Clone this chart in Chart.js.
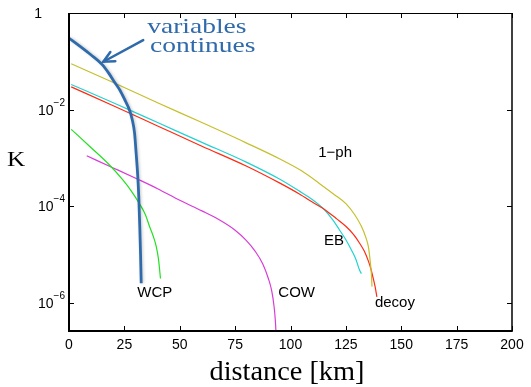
<!DOCTYPE html>
<html>
<head>
<meta charset="utf-8">
<script src="https://cdn.jsdelivr.net/npm/chart.js@4.4.1/dist/chart.umd.min.js"></script>
<style>
  body { margin: 0; background: #fff; }
  canvas { display: block; }
</style>
</head>
<body>
<canvas id="chart" width="531" height="387"></canvas>
<script>
// distance [km] and key rate K
const cvX   = [0, 5, 10, 15, 18, 20.5, 23, 25, 27.3, 28.5, 29.6, 30.3, 31, 31.5, 32, 32.3, 32.6];
const cvK   = [0.302, 0.204, 0.135, 0.0851, 0.0562, 0.0372, 0.0251, 0.0166, 0.00977, 0.00631, 0.00324, 0.00126, 4.47e-4, 1.58e-4, 3.16e-5, 1.0e-5, 2.51e-6];

const phX   = [1, 20, 40, 60, 80, 95, 105, 113, 120, 125, 129, 132, 134, 135.2, 136, 136.5, 136.8];
const phK   = [0.0891, 0.0363, 0.0138, 0.00537, 0.00204, 9.55e-4, 5.37e-4, 2.95e-4, 1.70e-4, 1.12e-4, 6.61e-5, 3.80e-5, 2.24e-5, 1.41e-5, 7.08e-6, 3.98e-6, 2.14e-6];

const ebX   = [1, 20, 40, 60, 80, 95, 104, 110, 115, 119, 122.2, 125, 127.5, 129.5, 131.2, 132];
const ebK   = [0.0331, 0.0138, 0.00537, 0.00209, 8.13e-4, 3.63e-4, 2.04e-4, 1.35e-4, 8.71e-5, 5.25e-5, 3.16e-5, 2.0e-5, 1.23e-5, 7.94e-6, 4.68e-6, 3.98e-6];

const decoyX = [1, 20, 40, 60, 80, 95, 104, 110, 116, 121, 125.2, 128.5, 131.2, 133.3, 135, 136.3, 137.2, 138.2, 139];
const decoyK = [0.0295, 0.0120, 0.00457, 0.00174, 6.76e-4, 3.02e-4, 1.78e-4, 1.20e-4, 8.13e-5, 5.37e-5, 3.72e-5, 2.57e-5, 1.70e-5, 1.17e-5, 7.59e-6, 5.01e-6, 3.39e-6, 2.14e-6, 1.32e-6];

const wcpX  = [1, 10, 18.3, 24.3, 28, 31.8, 34.5, 36.4, 38, 39.4, 40.4, 41.3];
const wcpK  = [3.89e-3, 1.62e-3, 7.08e-4, 3.47e-4, 2.09e-4, 1.12e-4, 6.61e-5, 3.72e-5, 2.40e-5, 1.45e-5, 7.94e-6, 3.16e-6];

const cowX  = [8, 20, 31.8, 40, 50, 60, 68, 75, 80, 84, 87.5, 90, 91.5, 92.5, 93.2, 93.8];
const cowK  = [1.10e-3, 6.17e-4, 3.47e-4, 2.29e-4, 1.32e-4, 7.94e-5, 5.13e-5, 3.16e-5, 1.95e-5, 1.17e-5, 6.31e-6, 3.16e-6, 1.78e-6, 8.91e-7, 3.98e-7, 1.0e-7];

const yTicks = [1, 1e-2, 1e-4, 1e-6];
const yTickExp = ['', '\u22122', '\u22124', '\u22126'];

// curve names, placed in data coordinates (left edge, baseline)
const curveNames = ['1\u2212ph', 'EB', 'WCP', 'COW', 'decoy'];
const nameX = [112.5, 115.1, 30.8, 94.5, 138.1];
const nameK = [1.05e-3, 1.56e-5, 1.33e-6, 1.33e-6, 8.2e-7];

function pts(xs, ks) {
    return xs.map((x, i) => ({ x: x, y: ks[i] }));
}

function line(data, color, width) {
    return {
        data: data,
        borderColor: color,
        borderWidth: width,
        pointRadius: 0,
        fill: false,
        cubicInterpolationMode: 'monotone'
    };
}

const BLUE = '#2f6aab';

const decorations = {
    id: 'decorations',
    beforeDatasetDraw(chart, args) {
        if (args.index === 0) {
            // soft grey halo around the thick CV curve
            const ctx = chart.ctx;
            ctx.save();
            ctx.shadowColor = 'rgba(0,0,0,0.22)';
            ctx.shadowBlur = 3;
            ctx.shadowOffsetX = 1;
            ctx.shadowOffsetY = 0;
        }
    },
    afterDatasetDraw(chart, args) {
        if (args.index === 0) chart.ctx.restore();
    },
    afterDraw(chart) {
        const ctx = chart.ctx;
        const a = chart.chartArea;
        const xs = chart.scales.x;
        const ys = chart.scales.y;
        ctx.save();

        // box
        ctx.strokeStyle = '#000';
        ctx.lineWidth = 1;
        ctx.beginPath();
        ctx.moveTo(a.left, a.top + 0.5);
        ctx.lineTo(a.right, a.top + 0.5);
        ctx.stroke();
        ctx.lineWidth = 1.5;
        ctx.beginPath();
        ctx.moveTo(a.right, a.top);
        ctx.lineTo(a.right, a.bottom);
        ctx.stroke();
        ctx.lineWidth = 2;
        ctx.beginPath();
        ctx.moveTo(a.left, a.top);
        ctx.lineTo(a.left, a.bottom);
        ctx.lineTo(a.right + 0.75, a.bottom);
        ctx.stroke();

        // inward tick marks
        ctx.lineWidth = 1;
        xs.ticks.forEach(t => {
            const px = Math.round(xs.getPixelForValue(t.value)) + 0.5;
            ctx.beginPath();
            ctx.moveTo(px, a.bottom);
            ctx.lineTo(px, a.bottom - 5);
            ctx.moveTo(px, a.top);
            ctx.lineTo(px, a.top + 5);
            ctx.stroke();
        });
        yTicks.forEach(v => {
            const py = Math.round(ys.getPixelForValue(v)) + 0.5;
            ctx.beginPath();
            ctx.moveTo(a.left, py);
            ctx.lineTo(a.left + 5, py);
            ctx.moveTo(a.right, py);
            ctx.lineTo(a.right - 5, py);
            ctx.stroke();
        });

        // y tick labels with superscripts
        ctx.fillStyle = '#000';
        ctx.textBaseline = 'alphabetic';
        yTicks.forEach((v, i) => {
            const py = ys.getPixelForValue(v);
            if (yTickExp[i] === '') {
                ctx.font = '14px "Liberation Sans", Arial, sans-serif';
                ctx.textAlign = 'right';
                ctx.fillText('1', 42, py + 5);
                return;
            }
            ctx.font = '10px "Liberation Sans", Arial, sans-serif';
            const w = ctx.measureText(yTickExp[i]).width;
            const supX = 65 - w;
            ctx.textAlign = 'left';
            ctx.fillText(yTickExp[i], supX, py - 4);
            ctx.font = '14px "Liberation Sans", Arial, sans-serif';
            ctx.textAlign = 'right';
            ctx.fillText('10', supX, py + 5);
        });

        // curve names
        ctx.font = '15px "Liberation Sans", Arial, sans-serif';
        ctx.textAlign = 'left';
        curveNames.forEach((s, i) => {
            ctx.fillText(s, xs.getPixelForValue(nameX[i]), ys.getPixelForValue(nameK[i]));
        });

        // axis titles (serif, slightly widened)
        ctx.font = '27px "Liberation Serif", "Times New Roman", serif';
        ctx.textAlign = 'center';
        ctx.save();
        ctx.translate(287, 380);
        ctx.scale(1.05, 1);
        ctx.fillText('distance [km]', 0, 0);
        ctx.restore();

        ctx.font = '21px "Liberation Serif", "Times New Roman", serif';
        ctx.textAlign = 'left';
        ctx.save();
        ctx.translate(7, 166);
        ctx.scale(1.2, 1);
        ctx.fillText('K', 0, 0);
        ctx.restore();

        // annotation for the CV curve
        ctx.fillStyle = BLUE;
        ctx.font = '22px "Liberation Serif", "Times New Roman", serif';
        const ann = [['variables', 35.3, -0.42], ['continues', 36.6, -0.80]];
        ann.forEach(([s, x, lk]) => {
            ctx.save();
            ctx.translate(xs.getPixelForValue(x), ys.getPixelForValue(Math.pow(10, lk)));
            ctx.scale(1.25, 1);
            ctx.fillText(s, 0, 0);
            ctx.restore();
        });

        const x0 = xs.getPixelForValue(33.5), y0 = ys.getPixelForValue(Math.pow(10, -0.56));
        const x1 = xs.getPixelForValue(15.5), y1 = ys.getPixelForValue(Math.pow(10, -1.01));
        const ang = Math.atan2(y1 - y0, x1 - x0);
        ctx.strokeStyle = BLUE;
        ctx.lineWidth = 2.5;
        ctx.lineCap = 'round';
        ctx.beginPath();
        ctx.moveTo(x0, y0);
        ctx.lineTo(x1, y1);
        ctx.stroke();
        ctx.beginPath();
        ctx.moveTo(x1 - 12 * Math.cos(ang - 0.45), y1 - 12 * Math.sin(ang - 0.45));
        ctx.lineTo(x1, y1);
        ctx.lineTo(x1 - 12 * Math.cos(ang + 0.45), y1 - 12 * Math.sin(ang + 0.45));
        ctx.stroke();

        ctx.restore();
    }
};

new Chart(document.getElementById('chart'), {
    type: 'line',
    data: {
        datasets: [
            line(pts(cvX, cvK), BLUE, 2.8),
            line(pts(phX, phK), '#c6bf2c', 1.2),
            line(pts(decoyX, decoyK), '#ff2a12', 1.2),
            line(pts(ebX, ebK), '#22d2d2', 1.2),
            line(pts(wcpX, wcpK), '#22e022', 1.2),
            line(pts(cowX, cowK), '#d83cd8', 1.2)
        ]
    },
    options: {
        responsive: false,
        devicePixelRatio: 1,
        animation: false,
        layout: { padding: { top: 13, right: 19, left: 0, bottom: 0 } },
        plugins: {
            legend: { display: false },
            tooltip: { enabled: false }
        },
        scales: {
            x: {
                type: 'linear',
                min: 0,
                max: 200,
                grid: { display: false, drawTicks: false },
                border: { display: false },
                ticks: {
                    stepSize: 25,
                    padding: 6,
                    color: '#000',
                    maxRotation: 0,
                    font: { family: '"Liberation Sans", Arial, sans-serif', size: 14 }
                },
                afterFit: s => { s.height = 56; }
            },
            y: {
                type: 'logarithmic',
                min: 2.58e-7,
                max: 1,
                grid: { display: false, drawTicks: false },
                border: { display: false },
                ticks: { display: false },
                afterBuildTicks: s => { s.ticks = yTicks.map(v => ({ value: v })); },
                afterFit: s => { s.width = 69; }
            }
        }
    },
    plugins: [decorations]
});
</script>
</body>
</html>
